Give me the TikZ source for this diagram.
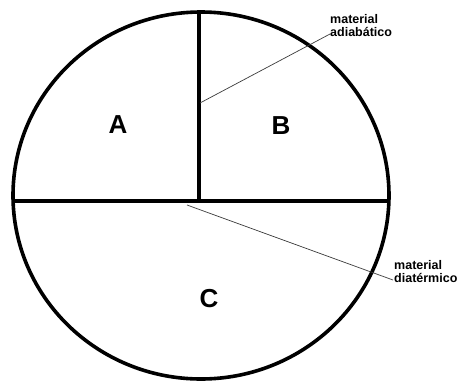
\documentclass[tikz,border=0pt]{standalone}
\usepackage{fontspec}
\setmainfont{Liberation Sans}
\usepackage{tikz}
\usetikzlibrary{positioning,calc}
\definecolor{wallInk}{HTML}{000000}
\definecolor{leadInk}{HTML}{3A3A3A}

\begin{document}
\begin{tikzpicture}[
    x=1pt, y=-1pt,
    wall/.style={draw=wallInk, line width=3.6pt},
    part/.style={font=\fontsize{26}{28}\selectfont\bfseries, inner sep=0pt},
    note/.style={font=\fontsize{12.5}{13}\selectfont\bfseries, align=left, inner sep=1pt},
    lead/.style={draw=leadInk, line width=0.7pt},
  ]
  \useasboundingbox (0,0) rectangle (464,381);
  % container and inner walls
  \draw[wall] (201,195.5) ellipse[x radius=188, y radius=183.5];
  \coordinate (top) at (199,12);
  \coordinate (mid) at (199,201);
  \coordinate (left) at (13,201);
  \coordinate (right) at (389,201);
  \draw[wall] (top) -- (mid);
  \draw[wall] (left) -- (right);
  % the three parts
  \node[part] (A) at (118,125) {A};
  \node[part] (B) at (281,126) {B};
  \node[part] (C) at (209,299) {C};
  % leader notes
  \coordinate (adiaWall) at (200,103);
  \coordinate (diaWall) at (187,205);
  \node[note, anchor=south west] (adia) at (329,38) {material\\adiabático};
  \node[note, anchor=west] (dia) at (393,272) {material\\diatérmico};
  \draw[lead] (adiaWall) -- ($(adia.south west)+(1,-4)$);
  \draw[lead] (diaWall) -- (dia.west |- 0,280);
\end{tikzpicture}
\end{document}
